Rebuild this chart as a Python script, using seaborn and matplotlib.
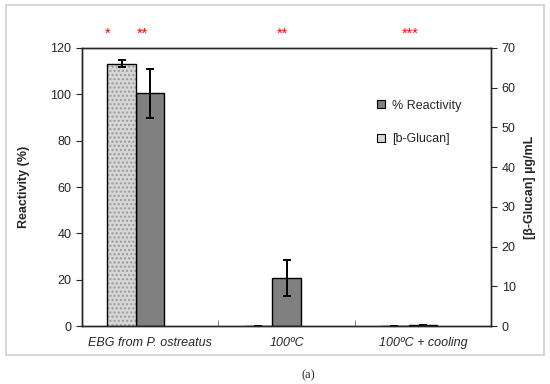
import matplotlib
matplotlib.use("Agg")
import matplotlib.pyplot as plt
import seaborn as sns
import numpy as np
import pandas as pd
from matplotlib.patches import Patch, Rectangle

# data
categories = ["EBG from P. ostreatus", "100ºC", "100ºC + cooling"]
reactivity = [100.4, 20.8, 0.4]          # % (left axis)
reactivity_err = [10.6, 7.9, 0.0]
glucan = [66.0, 0.0, 0.0]                # ug/mL (right axis)
glucan_err = [0.9, 0.0, 0.0]
signif = ["*", "**", "**", "***"]
signif_x = [-0.31, -0.06, 0.97, 1.91]    # category units

sns.set_style("ticks")
plt.rcParams["font.family"] = ["Liberation Sans", "DejaVu Sans"]
plt.rcParams["font.size"] = 9

fig = plt.figure(figsize=(5.5, 3.84), dpi=100)
ax = fig.add_axes([0.149, 0.151, 0.744, 0.724])
ax2 = ax.twinx()

w = 0.21
pos = np.arange(len(categories))
df_r = pd.DataFrame({"x": pos.astype(float), "y": reactivity})
df_g = pd.DataFrame({"x": pos - w, "y": glucan})

sns.barplot(data=df_r, x="x", y="y", native_scale=True, width=w, color="#808080",
            edgecolor="black", linewidth=1.0, saturation=1, ax=ax)
sns.barplot(data=df_g, x="x", y="y", native_scale=True, width=w, color="#d6d6d6",
            edgecolor="#9a9a9a", linewidth=0, saturation=1, ax=ax2)
for p in ax2.patches:
    p.set_hatch("....")
ax2.bar(pos - w, glucan, width=w, fill=False, edgecolor="black", linewidth=1.0)

ax.errorbar(pos, reactivity, yerr=reactivity_err, fmt="none", ecolor="black",
            elinewidth=1.4, capsize=3, capthick=1.4)
ax2.errorbar(pos - w, glucan, yerr=glucan_err, fmt="none", ecolor="black",
             elinewidth=1.4, capsize=3, capthick=1.4)

ax.set_xlim(-0.5, 2.5)
ax.set_ylim(0, 120)
ax2.set_ylim(0, 70)
ax.set_yticks(range(0, 121, 20))
ax2.set_yticks(range(0, 71, 10))

ax.set_xticks([0.5, 1.5])
ax.set_xticklabels([])
ax.set_xticks(pos, minor=True)
ax.set_xticklabels(categories, minor=True, style="italic", fontsize=9)
ax.tick_params(axis="x", which="major", direction="in", length=4, color="#888888")
ax.tick_params(axis="x", which="minor", length=0, pad=8)
ax.tick_params(axis="y", direction="out", length=4, labelsize=9)
ax2.tick_params(axis="y", direction="out", length=4, labelsize=9)

ax.set_xlabel("")
ax.set_ylabel("Reactivity (%)", fontweight="bold", fontsize=9, labelpad=15)
ax2.set_ylabel("[β-Glucan] µg/mL", fontweight="bold", fontsize=9, labelpad=6)
ax2.set_xlabel("")

for s in ["top", "right", "left", "bottom"]:
    ax.spines[s].set_visible(True)
    ax.spines[s].set_linewidth(1.0)
    ax2.spines[s].set_linewidth(1.0)

for t, x in zip(signif, signif_x):
    ax.text(x, 126, t, color="red", ha="center", va="center", fontsize=10.5, clip_on=False)

handles = [Patch(facecolor="#808080", edgecolor="black", linewidth=0.8, label="% Reactivity"),
           Patch(facecolor="#d6d6d6", edgecolor="black", linewidth=0.8, label="[b-Glucan]")]
fig.legend(handles=handles, loc="upper left", bbox_to_anchor=(0.665, 0.77),
           frameon=False, fontsize=9, handlelength=0.6, handleheight=0.6,
           handletextpad=0.6, labelspacing=1.75)

fig.patches.append(Rectangle((0.011, 0.076), 0.978, 0.911, transform=fig.transFigure,
                             fill=False, edgecolor="#d0d0d0", linewidth=1.2))
fig.text(0.56, 0.022, "(a)", family=["Liberation Serif", "DejaVu Serif"], fontsize=9,
         ha="center", va="center")

fig.savefig("out.png", dpi=100)
